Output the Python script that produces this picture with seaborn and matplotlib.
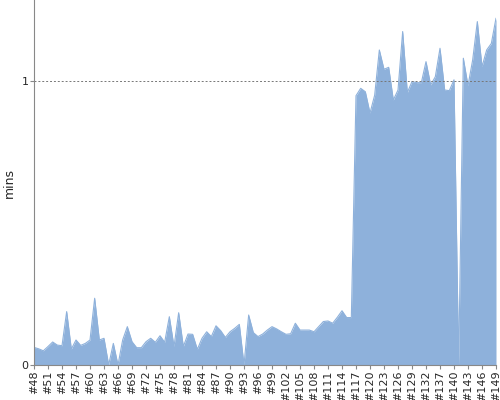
import matplotlib
matplotlib.use("Agg")
import matplotlib.pyplot as plt
import seaborn as sns
import numpy as np

ids = list(range(48, 133)) + [133, 135] + list(range(137, 150))
labels = ["#%d" % i for i in ids]
values = [0.062,0.057,0.050,0.065,0.081,0.070,0.068,0.188,0.056,0.088,
          0.069,0.076,0.088,0.235,0.088,0.094,0.0,0.076,0.0,0.088,
          0.135,0.082,0.061,0.061,0.082,0.094,0.080,0.103,0.080,0.170,
          0.065,0.184,0.065,0.109,0.108,0.055,0.094,0.117,0.100,0.138,
          0.121,0.097,0.117,0.129,0.143,0.0,0.176,0.114,0.100,0.109,
          0.123,0.135,0.127,0.117,0.108,0.110,0.147,0.123,0.123,0.123,
          0.117,0.135,0.153,0.155,0.147,0.168,0.191,0.167,0.167,0.948,
          0.974,0.962,0.887,0.950,1.109,1.041,1.048,0.933,0.968,1.174,
          0.959,0.998,0.994,0.994,1.068,0.986,1.015,1.115,0.968,0.966,
          1.004,0.0,1.080,0.983,1.074,1.209,1.050,1.109,1.132,1.221]

sns.set_style("white")
fig = plt.figure(figsize=(5, 4), dpi=100)
ax = fig.add_axes([0.068, 0.0875, 0.924, 0.9125])
x = np.arange(len(values))
ax.fill_between(x, values, 0, color="#8eb1db", lw=0)
sns.lineplot(x=x, y=values, ax=ax, color="#8eb1db", lw=0.8)
ax.axhline(1, color="#777777", ls=(0, (2, 2)), lw=0.7)
ax.set_xlim(0, len(values) - 1)
ax.set_ylim(0, 1.285)
ax.set_yticks([0, 1])
ax.set_yticklabels(["0", "1"], fontsize=8)
ax.set_xticks(x[::3])
ax.set_xticklabels(labels[::3], rotation=90, fontsize=8)
ax.set_ylabel("mins", fontsize=9)
for s in ["top", "right"]:
    ax.spines[s].set_visible(False)
for s in ["left", "bottom"]:
    ax.spines[s].set_color("#888888")
    ax.spines[s].set_linewidth(0.8)
ax.tick_params(axis="both", length=3, color="#888888", pad=1, left=True, bottom=True)
fig.savefig("out.png")
